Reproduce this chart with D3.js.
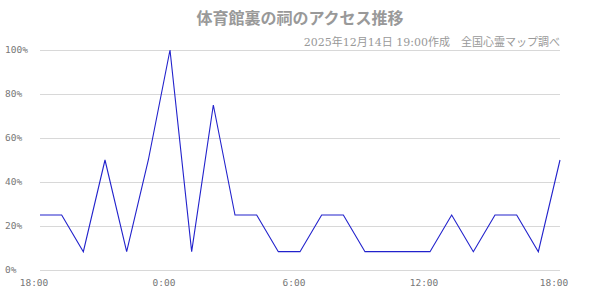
<!DOCTYPE html>
<html lang="ja">
    <head>
        <meta charset="UTF-8" />
        <title>体育館裏の祠のアクセス推移</title>
        <style>
            body { margin: 0; background: #fff; }
            #stage { width: 600px; height: 300px; }
        </style>
    </head>
    <body>
        <div id="stage"></div>
        <script src="https://d3js.org/d3.v7.min.js"></script>
        <script>
            // 時刻（1時間ごと、18:00 から翌 18:00 まで）
            const times = [
                '18:00', '19:00', '20:00', '21:00', '22:00', '23:00',
                '0:00', '1:00', '2:00', '3:00', '4:00', '5:00',
                '6:00', '7:00', '8:00', '9:00', '10:00', '11:00',
                '12:00', '13:00', '14:00', '15:00', '16:00', '17:00', '18:00'
            ];
            // アクセス数（最大値に対する割合 %）
            const access = [
                25, 25, 8.33, 50, 8.33, 50,
                100, 8.33, 75, 25, 25, 8.33,
                8.33, 25, 25, 8.33, 8.33, 8.33,
                8.33, 25, 8.33, 25, 25, 8.33, 50
            ];
            // 目盛り
            const xTickLabels = ['18:00', '0:00', '6:00', '12:00', '18:00'];
            const yTicks = [0, 20, 40, 60, 80, 100];

            const title = '体育館裏の祠のアクセス推移';
            const subtitle = '2025年12月14日 19:00作成　全国心霊マップ調べ';

            const width = 600, height = 300;
            const margin = {top: 50, right: 40, bottom: 30, left: 40};

            const svg = d3.select('#stage').append('svg')
                .attr('width', width)
                .attr('height', height);

            const x = d3.scaleLinear()
                .domain([0, times.length - 1])
                .range([margin.left, width - margin.right]);
            const y = d3.scaleLinear()
                .domain([0, 100])
                .range([height - margin.bottom, margin.top]);

            // 横グリッド線
            svg.append('g')
                .selectAll('line')
                .data(yTicks)
                .join('line')
                .attr('x1', x(0))
                .attr('x2', x(times.length - 1))
                .attr('y1', (d) => Math.round(y(d)) + 0.5)
                .attr('y2', (d) => Math.round(y(d)) + 0.5)
                .attr('stroke', '#d8d8d8')
                .attr('stroke-width', 1);

            // y 軸ラベル
            svg.append('g')
                .selectAll('text')
                .data(yTicks)
                .join('text')
                .attr('x', 5)
                .attr('y', (d) => y(d))
                .attr('dy', '0.35em')
                .attr('font-family', 'DejaVu Sans Mono, monospace')
                .attr('font-size', 9.5)
                .attr('fill', '#777')
                .text((d) => d + '%');

            // x 軸ラベル（最後の 18:00 は末尾を探す）
            const tickIdx = xTickLabels.map((t, k) =>
                k === xTickLabels.length - 1 ? times.lastIndexOf(t) : times.indexOf(t));
            svg.append('g')
                .selectAll('text')
                .data(tickIdx)
                .join('text')
                .attr('x', (i) => x(i) - 6)
                .attr('y', height - 14)
                .attr('text-anchor', 'middle')
                .attr('font-family', 'DejaVu Sans Mono, monospace')
                .attr('font-size', 9.5)
                .attr('fill', '#777')
                .text((i) => times[i]);

            // 折れ線
            const line = d3.line()
                .x((d, i) => x(i))
                .y((d) => y(d));
            svg.append('path')
                .datum(access)
                .attr('d', line)
                .attr('fill', 'none')
                .attr('stroke', '#2222cc')
                .attr('stroke-width', 1.1);

            // タイトル
            svg.append('text')
                .attr('x', width / 2)
                .attr('y', 24)
                .attr('text-anchor', 'middle')
                .attr('font-family', '"Noto Sans CJK JP", sans-serif')
                .attr('font-size', 16)
                .attr('font-weight', 'bold')
                .attr('fill', '#999')
                .text(title);

            // 作成日・出典
            svg.append('text')
                .attr('x', width - margin.right)
                .attr('y', 46)
                .attr('text-anchor', 'end')
                .attr('font-family', '"DejaVu Serif", "Noto Sans CJK JP", serif')
                .attr('font-size', 11)
                .attr('fill', '#999')
                .text(subtitle);
        </script>
    </body>
</html>
